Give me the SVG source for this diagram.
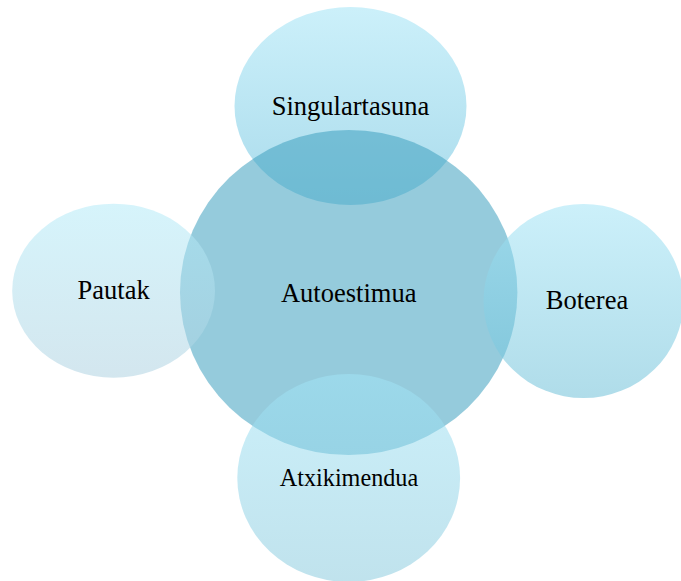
<svg xmlns="http://www.w3.org/2000/svg" width="681" height="581" viewBox="0 0 681 581">
<defs>
<linearGradient id="satTop" x1="0" y1="0" x2="0" y2="1">
<stop offset="0" stop-color="#a2e4f6"/>
<stop offset="1" stop-color="#64bedc"/>
</linearGradient>
<linearGradient id="satLeft" x1="0" y1="0" x2="0" y2="1">
<stop offset="0" stop-color="#b4ebf8"/>
<stop offset="1" stop-color="#afd2e1"/>
</linearGradient>
<linearGradient id="satRight" x1="0" y1="0" x2="0" y2="1">
<stop offset="0" stop-color="#a2e4f6"/>
<stop offset="1" stop-color="#6ec0d8"/>
</linearGradient>
<linearGradient id="satBottom" x1="0" y1="0" x2="0" y2="1">
<stop offset="0" stop-color="#a2e4f6"/>
<stop offset="1" stop-color="#8ccbde"/>
</linearGradient>
<style>
.sat{fill-opacity:0.55}
.hub{fill:#3ea0bf;fill-opacity:0.55}
text{font-family:"Liberation Serif","Times New Roman",serif;fill:#000;text-anchor:middle;font-size:26.5px}
</style>
</defs>
<rect width="681" height="581" fill="#ffffff"/>
<g id="connectors"/>
<g id="node-singulartasuna">
<ellipse class="sat" fill="url(#satTop)" cx="350.5" cy="106" rx="116" ry="99"/>
<text x="350.5" y="115">Singulartasuna</text>
</g>
<g id="node-autoestimua">
<ellipse class="hub" cx="348.7" cy="292.5" rx="168.7" ry="162.5"/>
<text x="348.7" y="301.7">Autoestimua</text>
</g>
<g id="node-pautak">
<ellipse class="sat" fill="url(#satLeft)" cx="113.6" cy="290.7" rx="101.4" ry="87"/>
<text x="113.6" y="298.5">Pautak</text>
</g>
<g id="node-boterea">
<ellipse class="sat" fill="url(#satRight)" cx="583.5" cy="301" rx="100" ry="97"/>
<text x="587" y="309">Boterea</text>
</g>
<g id="node-atxikimendua">
<ellipse class="sat" fill="url(#satBottom)" cx="348.7" cy="478" rx="111.4" ry="104"/>
<text x="349" y="486" style="font-size:24.2px">Atxikimendua</text>
</g>
</svg>
